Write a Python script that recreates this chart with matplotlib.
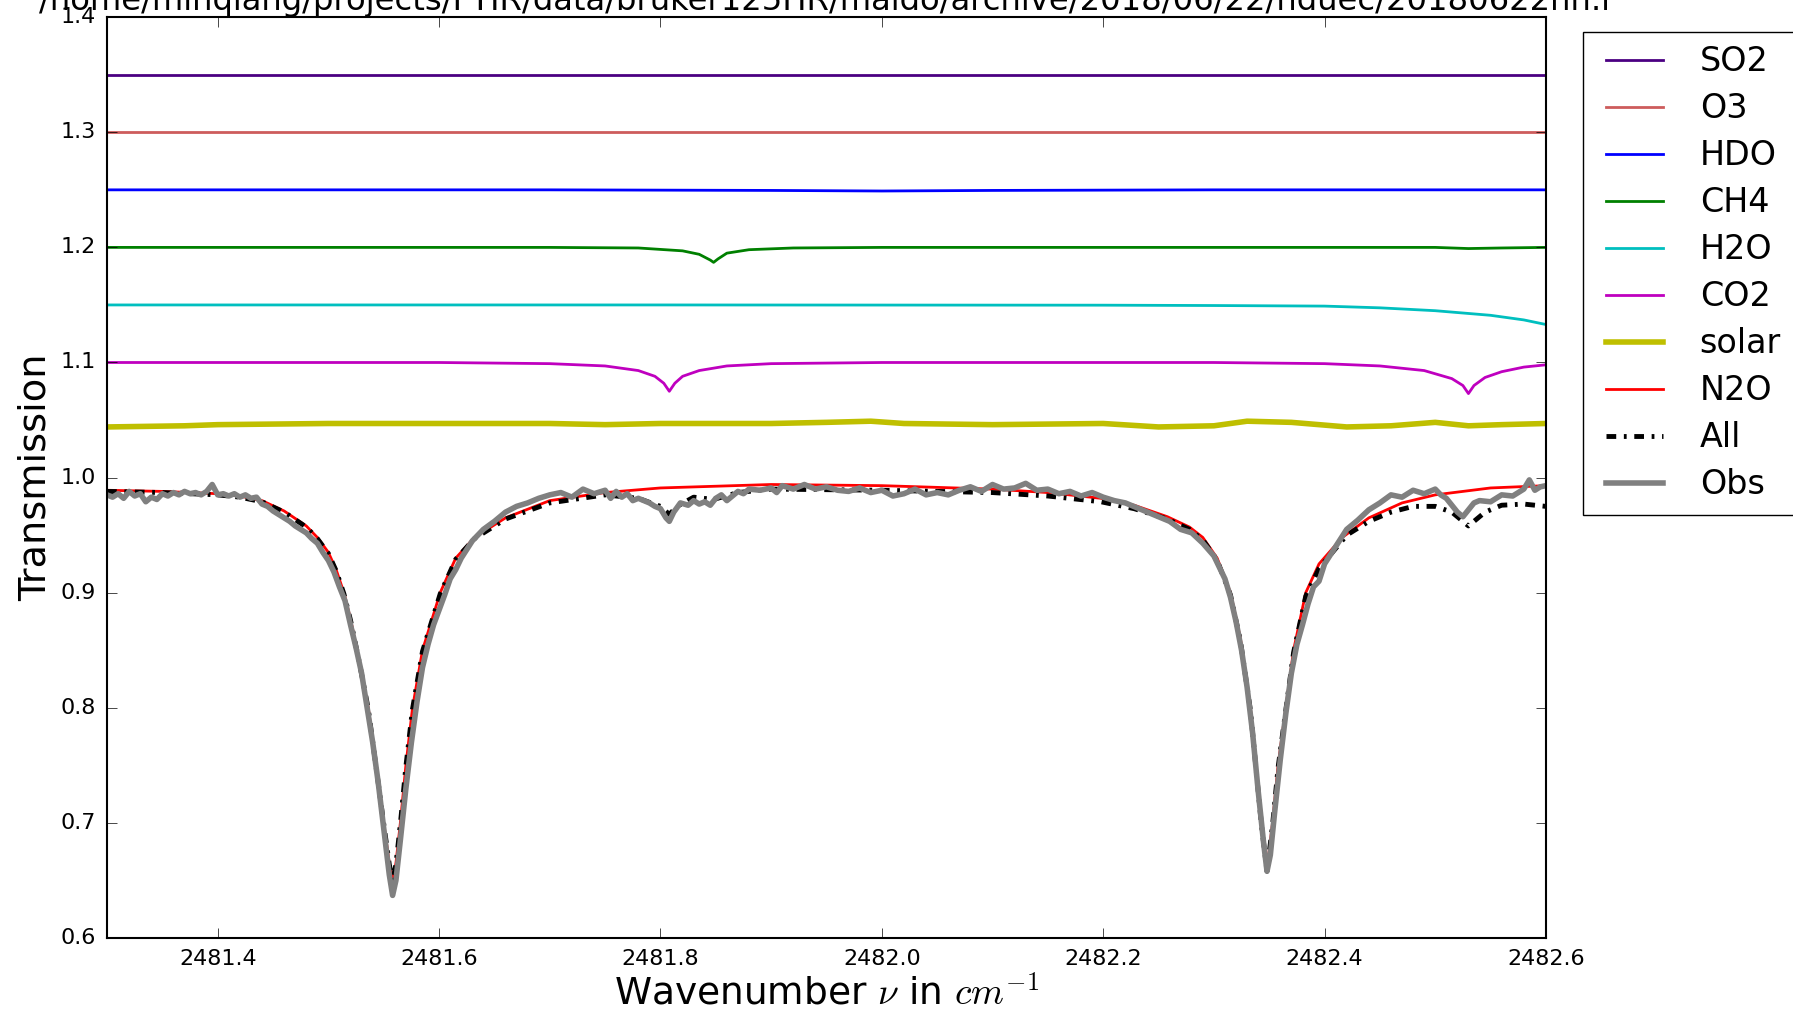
import matplotlib
matplotlib.use("Agg")
import matplotlib.pyplot as plt

plt.style.use('classic')

title = "/home/minqiang/projects/FTIR/data/bruker125HR/maido/archive/2018/06/22/hduec/20180622hh.r"

# flat / offset gas traces
flat_nu = [2481.30, 2481.60, 2481.90, 2482.20, 2482.60]
so2 = [1.350, 1.350, 1.350, 1.350, 1.350]
o3 = [1.300, 1.300, 1.300, 1.300, 1.300]

hdo_nu = [2481.30, 2481.70, 2481.90, 2482.00, 2482.10, 2482.30, 2482.60]
hdo = [1.250, 1.250, 1.2495, 1.249, 1.2495, 1.250, 1.250]

ch4_nu = [2481.30, 2481.60, 2481.70, 2481.78, 2481.82, 2481.835, 2481.845, 2481.848,
          2481.852, 2481.86, 2481.88, 2481.92, 2482.00, 2482.50, 2482.53, 2482.56, 2482.60]
ch4 = [1.200, 1.200, 1.200, 1.1995, 1.197, 1.194, 1.189, 1.187,
       1.190, 1.195, 1.198, 1.1995, 1.200, 1.200, 1.199, 1.1995, 1.200]

h2o_nu = [2481.30, 2481.80, 2482.20, 2482.30, 2482.40, 2482.45, 2482.50, 2482.55, 2482.58, 2482.60]
h2o = [1.150, 1.150, 1.1498, 1.1495, 1.149, 1.1475, 1.145, 1.141, 1.137, 1.133]

co2_nu = [2481.30, 2481.60, 2481.70, 2481.75, 2481.78, 2481.795, 2481.803, 2481.808,
          2481.813, 2481.82, 2481.835, 2481.86, 2481.90, 2482.00, 2482.30, 2482.40,
          2482.45, 2482.49, 2482.515, 2482.525, 2482.530, 2482.535, 2482.545, 2482.56,
          2482.58, 2482.60]
co2 = [1.100, 1.100, 1.099, 1.097, 1.093, 1.088, 1.082, 1.075,
       1.082, 1.088, 1.093, 1.097, 1.099, 1.100, 1.100, 1.099,
       1.097, 1.093, 1.086, 1.080, 1.073, 1.080, 1.087, 1.092,
       1.096, 1.098]

solar_nu = [2481.30, 2481.37, 2481.40, 2481.50, 2481.60, 2481.70, 2481.75, 2481.80, 2481.85,
            2481.90, 2481.95, 2481.99, 2482.02, 2482.10, 2482.20, 2482.25, 2482.30, 2482.33,
            2482.37, 2482.42, 2482.46, 2482.50, 2482.53, 2482.56, 2482.60]
solar = [1.044, 1.045, 1.046, 1.047, 1.047, 1.047, 1.046, 1.047, 1.047,
         1.047, 1.048, 1.049, 1.047, 1.046, 1.047, 1.044, 1.045, 1.049,
         1.048, 1.044, 1.045, 1.048, 1.045, 1.046, 1.047]

n2o_nu = [2481.30, 2481.35, 2481.40, 2481.42, 2481.44, 2481.46, 2481.48, 2481.49, 2481.50,
          2481.507, 2481.514, 2481.52, 2481.528, 2481.536, 2481.543, 2481.550, 2481.555,
          2481.558, 2481.561, 2481.565, 2481.570, 2481.576, 2481.585, 2481.601, 2481.615,
          2481.632, 2481.66, 2481.70, 2481.75, 2481.80, 2481.90, 2482.00, 2482.10, 2482.15,
          2482.198, 2482.228, 2482.258, 2482.278, 2482.290, 2482.303, 2482.315, 2482.324,
          2482.333, 2482.338, 2482.343, 2482.348, 2482.353, 2482.358, 2482.365, 2482.372,
          2482.383, 2482.395, 2482.416, 2482.44, 2482.47, 2482.50, 2482.55, 2482.60]
n2o = [0.989, 0.988, 0.986, 0.984, 0.980, 0.971, 0.958, 0.948, 0.935,
       0.920, 0.900, 0.877, 0.840, 0.800, 0.750, 0.700, 0.665,
       0.650, 0.665, 0.700, 0.750, 0.800, 0.850, 0.900, 0.930,
       0.948, 0.965, 0.980, 0.987, 0.991, 0.994, 0.993, 0.990, 0.987,
       0.982, 0.976, 0.966, 0.957, 0.948, 0.930, 0.900, 0.860,
       0.800, 0.750, 0.700, 0.660, 0.700, 0.750, 0.800, 0.850,
       0.900, 0.925, 0.948, 0.965, 0.978, 0.985, 0.991, 0.993]

all_nu = [2481.30, 2481.35, 2481.40, 2481.42, 2481.44, 2481.46, 2481.48, 2481.49, 2481.50,
          2481.507, 2481.514, 2481.52, 2481.528, 2481.536, 2481.543, 2481.550, 2481.555,
          2481.558, 2481.561, 2481.565, 2481.570, 2481.576, 2481.585, 2481.601, 2481.615,
          2481.632, 2481.66, 2481.70, 2481.75, 2481.78, 2481.80, 2481.808, 2481.815,
          2481.83, 2481.848, 2481.87, 2481.90, 2482.00, 2482.10, 2482.15,
          2482.198, 2482.228, 2482.258, 2482.278, 2482.290, 2482.303, 2482.315, 2482.324,
          2482.333, 2482.338, 2482.343, 2482.348, 2482.353, 2482.358, 2482.365, 2482.372,
          2482.383, 2482.395, 2482.42, 2482.44, 2482.46, 2482.48, 2482.50, 2482.515,
          2482.525, 2482.53, 2482.535, 2482.545, 2482.56, 2482.58, 2482.60]
all_gas = [0.988, 0.987, 0.985, 0.983, 0.979, 0.970, 0.957, 0.947, 0.934,
           0.919, 0.899, 0.876, 0.839, 0.799, 0.749, 0.699, 0.664,
           0.649, 0.664, 0.699, 0.749, 0.799, 0.849, 0.899, 0.929,
           0.947, 0.964, 0.978, 0.985, 0.982, 0.975, 0.968, 0.975,
           0.983, 0.981, 0.987, 0.990, 0.989, 0.987, 0.984,
           0.979, 0.973, 0.964, 0.955, 0.946, 0.928, 0.898, 0.858,
           0.798, 0.748, 0.698, 0.658, 0.698, 0.748, 0.798, 0.848,
           0.897, 0.921, 0.950, 0.962, 0.970, 0.975, 0.975, 0.970,
           0.962, 0.958, 0.962, 0.970, 0.976, 0.977, 0.975]

obs_nu = [2481.300, 2481.305, 2481.310, 2481.315, 2481.320, 2481.325, 2481.330, 2481.335,
          2481.340, 2481.345, 2481.350, 2481.355, 2481.360, 2481.365, 2481.370, 2481.375,
          2481.380, 2481.385, 2481.390, 2481.395, 2481.400, 2481.405, 2481.410, 2481.415,
          2481.420, 2481.425, 2481.430, 2481.435, 2481.440, 2481.445, 2481.450, 2481.455,
          2481.460, 2481.465, 2481.470, 2481.475, 2481.480, 2481.485, 2481.490, 2481.495,
          2481.500, 2481.505, 2481.510, 2481.515, 2481.520, 2481.525, 2481.530, 2481.535,
          2481.540, 2481.545, 2481.550, 2481.555, 2481.558, 2481.561, 2481.565, 2481.570,
          2481.575, 2481.580, 2481.585, 2481.590, 2481.595, 2481.600, 2481.605, 2481.610,
          2481.615, 2481.620, 2481.630, 2481.640, 2481.650, 2481.660, 2481.670, 2481.680,
          2481.690, 2481.700, 2481.710, 2481.720, 2481.730, 2481.740, 2481.750, 2481.755,
          2481.760, 2481.765, 2481.770, 2481.775, 2481.780, 2481.790, 2481.795, 2481.800,
          2481.805, 2481.808, 2481.812, 2481.818, 2481.825, 2481.830, 2481.835, 2481.840,
          2481.845, 2481.850, 2481.855, 2481.860, 2481.870, 2481.875, 2481.880, 2481.890,
          2481.900, 2481.905, 2481.910, 2481.920, 2481.930, 2481.940, 2481.950, 2481.960,
          2481.970, 2481.980, 2481.990, 2482.000, 2482.010, 2482.020, 2482.030, 2482.040,
          2482.050, 2482.060, 2482.070, 2482.080, 2482.090, 2482.100, 2482.110, 2482.120,
          2482.130, 2482.140, 2482.150, 2482.160, 2482.170, 2482.180, 2482.190, 2482.200,
          2482.210, 2482.220, 2482.230, 2482.240, 2482.250, 2482.260, 2482.270, 2482.280,
          2482.290, 2482.300, 2482.305, 2482.310, 2482.315, 2482.320, 2482.325, 2482.330,
          2482.335, 2482.340, 2482.345, 2482.348, 2482.351, 2482.355, 2482.360, 2482.365,
          2482.370, 2482.375, 2482.380, 2482.385, 2482.390, 2482.395, 2482.400, 2482.410,
          2482.420, 2482.430, 2482.440, 2482.450, 2482.460, 2482.470, 2482.480, 2482.490,
          2482.500, 2482.505, 2482.510, 2482.515, 2482.520, 2482.525, 2482.530, 2482.535,
          2482.540, 2482.550, 2482.560, 2482.570, 2482.580, 2482.585, 2482.590, 2482.595,
          2482.600]
obs = [0.985, 0.983, 0.986, 0.982, 0.988, 0.984, 0.986, 0.979,
       0.983, 0.981, 0.986, 0.984, 0.987, 0.985, 0.988, 0.986,
       0.987, 0.985, 0.988, 0.994, 0.985, 0.986, 0.984, 0.986,
       0.983, 0.985, 0.982, 0.983, 0.977, 0.975, 0.971, 0.968,
       0.965, 0.962, 0.958, 0.955, 0.952, 0.947, 0.943, 0.935,
       0.928, 0.918, 0.905, 0.893, 0.872, 0.852, 0.830, 0.800,
       0.770, 0.735, 0.695, 0.655, 0.637, 0.650, 0.685, 0.730,
       0.770, 0.805, 0.835, 0.855, 0.872, 0.885, 0.898, 0.912,
       0.920, 0.930, 0.945, 0.955, 0.962, 0.970, 0.975, 0.978,
       0.982, 0.985, 0.987, 0.983, 0.990, 0.986, 0.989, 0.982,
       0.988, 0.983, 0.986, 0.980, 0.982, 0.978, 0.975, 0.973,
       0.965, 0.962, 0.970, 0.978, 0.976, 0.980, 0.977, 0.979,
       0.976, 0.982, 0.985, 0.980, 0.988, 0.986, 0.990, 0.989,
       0.991, 0.987, 0.993, 0.990, 0.994, 0.990, 0.992, 0.989,
       0.988, 0.991, 0.987, 0.989, 0.984, 0.986, 0.990, 0.985,
       0.987, 0.985, 0.989, 0.992, 0.988, 0.994, 0.990, 0.991,
       0.995, 0.989, 0.990, 0.986, 0.988, 0.984, 0.987, 0.983,
       0.980, 0.978, 0.974, 0.970, 0.966, 0.962, 0.955, 0.952,
       0.943, 0.932, 0.922, 0.912, 0.896, 0.875, 0.850, 0.818,
       0.778, 0.728, 0.682, 0.658, 0.672, 0.710, 0.755, 0.795,
       0.830, 0.855, 0.872, 0.890, 0.905, 0.910, 0.925, 0.940,
       0.955, 0.963, 0.972, 0.978, 0.985, 0.983, 0.989, 0.986,
       0.990, 0.985, 0.982, 0.976, 0.970, 0.966, 0.972, 0.978,
       0.980, 0.979, 0.985, 0.984, 0.990, 0.998, 0.989, 0.992,
       0.993]

fig = plt.figure(figsize=(17.93, 10.18), dpi=100)
ax = fig.add_axes([0.0597, 0.0786, 0.8025, 0.9045])

ax.plot(flat_nu, so2, color='#4B0082', lw=2, label='SO2')
ax.plot(flat_nu, o3, color='#CD5C5C', lw=2, label='O3')
ax.plot(hdo_nu, hdo, color='b', lw=2, label='HDO')
ax.plot(ch4_nu, ch4, color='g', lw=2, label='CH4')
ax.plot(h2o_nu, h2o, color='c', lw=2, label='H2O')
ax.plot(co2_nu, co2, color='m', lw=2, label='CO2')
ax.plot(solar_nu, solar, color='y', lw=4, label='solar')
ax.plot(n2o_nu, n2o, color='r', lw=2, label='N2O')
ax.plot(all_nu, all_gas, color='k', lw=3.5, linestyle=(0, (7, 5.5, 2, 5.5)), label='All')
ax.plot(obs_nu, obs, color='grey', lw=4, label='Obs')

ax.set_xlim(2481.3, 2482.6)
ax.set_ylim(0.6, 1.4)
ax.ticklabel_format(useOffset=False)
ax.tick_params(labelsize=16, length=7, pad=8, direction='in', top=True, right=True)
for s in ax.spines.values():
    s.set_linewidth(1.5)

ax.set_xlabel(r"Wavenumber $\nu$ in $cm^{-1}$", fontsize=27)
ax.set_ylabel("Transmission", fontsize=27.5)
ax.set_title(title, fontsize=23.2, pad=5)

ax.legend(loc='upper left', bbox_to_anchor=(1583 / 1793, 1 - 32 / 1018),
          bbox_transform=fig.transFigure, borderaxespad=0, fontsize=24,
          fancybox=False, handlelength=2.3, labelspacing=0.42)

fig.savefig("out.png", dpi=100)
